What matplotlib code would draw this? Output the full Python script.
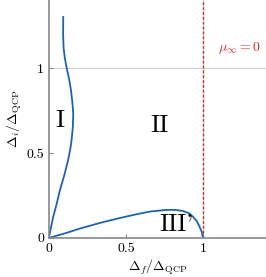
import matplotlib
matplotlib.use('Agg')
import matplotlib.pyplot as plt

plt.rcParams['font.family'] = 'cmr10'
plt.rcParams['mathtext.fontset'] = 'cm'
plt.rcParams['axes.formatter.use_mathtext'] = True

# boundary of region I
x_I = [0, 0.006, 0.028, 0.05, 0.071, 0.1, 0.125, 0.14, 0.147, 0.155, 0.158,
       0.152, 0.143, 0.13, 0.115, 0.103, 0.095, 0.092, 0.093]
y_I = [0, 0.03, 0.125, 0.2, 0.28, 0.37, 0.46, 0.53, 0.576, 0.65, 0.73,
       0.8, 0.87, 0.94, 1.0, 1.06, 1.12, 1.2, 1.30]

# boundary of region III'
x_III = [0, 0.05, 0.115, 0.2, 0.33, 0.45, 0.547, 0.654, 0.762, 0.82, 0.87,
         0.91, 0.935, 0.96, 0.978, 0.993, 1.0]
y_III = [0, 0.013, 0.03, 0.055, 0.088, 0.115, 0.135, 0.155, 0.165, 0.165,
         0.159, 0.145, 0.125, 0.1, 0.067, 0.035, 0.0]

ticks = [0, 0.5, 1]
tick_labels = ['0', '0.5', '1']

fig = plt.figure(figsize=(2.66, 2.77), dpi=100)
ax = fig.add_axes([0.184, 0.141, 0.816, 0.859])

ax.axhline(1, color='#cccccc', lw=0.8, zorder=0)
ax.axvline(1, color='#cccccc', lw=0.8, zorder=0)
ax.axvline(1, color='#d62728', lw=1.0, ls=(0, (2, 1.5)), zorder=1)

blue = '#1f63a8'
ax.plot(x_I, y_I, color=blue, lw=1.3, zorder=2)
ax.plot(x_III, y_III, color=blue, lw=1.3, zorder=2)

ax.text(0.07, 0.69, 'I', fontsize=18, ha='center', va='center')
ax.text(0.72, 0.66, 'II', fontsize=18, ha='center', va='center')
ax.text(0.83, 0.075, "III'", fontsize=18, ha='center', va='center')
ax.text(1.24, 1.12, r'$\mu_\infty = 0$', color='#d62728', fontsize=10,
        ha='center', va='center')

ax.set_xlim(0, 1.41)
ax.set_ylim(0, 1.4)
ax.set_xticks(ticks)
ax.set_xticklabels(tick_labels)
ax.set_yticks(ticks)
ax.set_yticklabels(tick_labels)
ax.tick_params(direction='in', color='#888888', labelsize=10, length=3)

for s in ['top', 'right']:
    ax.spines[s].set_visible(False)
for s in ['left', 'bottom']:
    ax.spines[s].set_color('#888888')
    ax.spines[s].set_linewidth(1.2)

ax.set_xlabel(r'$\Delta_f/\Delta_{\rm QCP}$', fontsize=10, labelpad=2)
ax.set_ylabel(r'$\Delta_i/\Delta_{\rm QCP}$', fontsize=10, labelpad=2)

fig.savefig('out.png', dpi=100)
